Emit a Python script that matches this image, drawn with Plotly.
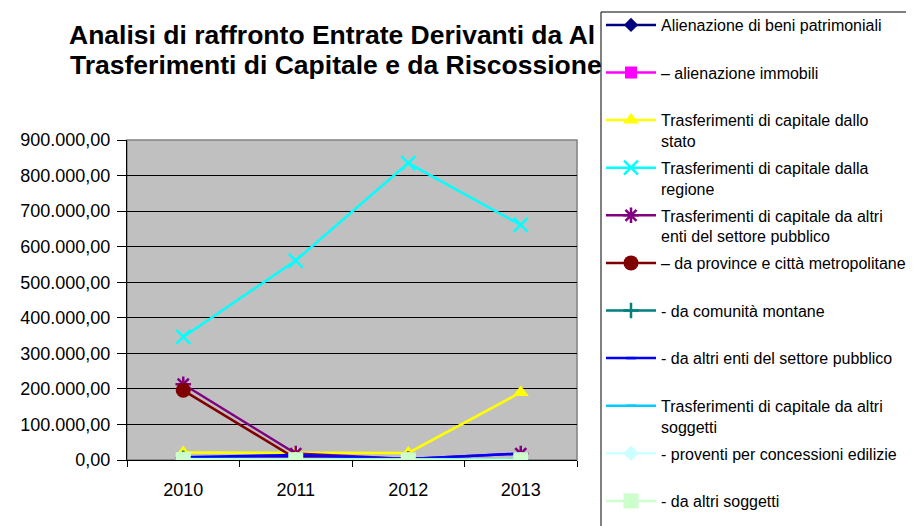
import plotly.graph_objects as go

years = ["2010", "2011", "2012", "2013"]

# visible part of the title (the rest is hidden behind the legend box)
title_lines = [
    "Analisi di raffronto Entrate Derivanti da Al",
    "Trasferimenti di Capitale e da Riscossione",
]

names = [
    "Alienazione di beni patrimoniali",
    "– alienazione immobili",
    "Trasferimenti di capitale dallo<br>stato",
    "Trasferimenti di capitale dalla<br>regione",
    "Trasferimenti di capitale da altri<br>enti del settore pubblico",
    "– da province e città metropolitane",
    "- da comunità montane",
    "- da altri enti del settore pubblico",
    "Trasferimenti di capitale da altri<br>soggetti",
    "- proventi per concessioni edilizie",
    "- da altri soggetti",
]

alienazione_beni = [6000, 10000, 3000, 2000]
alienazione_immobili = [3000, 3000, 5000, 0]
trasf_stato = [21000, 21000, 20000, 190000]
trasf_regione = [346000, 561000, 835000, 661000]
trasf_altri_enti = [213000, 18000, 3000, 18000]
da_province = [196000, 4000, 0, 0]
da_comunita = [5000, 0, 0, 0]
da_altri_enti = [8000, 14000, 3000, 18000]
trasf_altri_soggetti = [3000, 3000, 2000, 2000]
proventi = [2000, 2000, 1000, 0]
da_altri_soggetti = [1000, 1000, 500, 1000]

series = [alienazione_beni, alienazione_immobili, trasf_stato, trasf_regione,
          trasf_altri_enti, da_province, da_comunita, da_altri_enti,
          trasf_altri_soggetti, proventi, da_altri_soggetti]

colors = ["#000080", "#FF00FF", "#FFFF00", "#00FFFF", "#800080", "#800000",
          "#008080", "#0000FF", "#00CCFF", "#CCFFFF", "#CCFFCC"]
symbols = ["diamond", "square", "triangle-up", "x-thin-open", "asterisk-open",
           "circle", "cross-thin-open", "line-ew-open", "line-ew-open",
           "diamond", "square"]
sizes = [11, 12, 14, 14, 13, 15, 11, 7, 7, 12, 15]

W, H = 914, 526
OFF = 8  # page body margin
L, R, T, B = 127, 577, 140, 460
FONT = "Arial, Liberation Sans, sans-serif"


def X(p):
    return (p - OFF) / W


def Y(p):
    return 1 - (p - OFF) / H


fig = go.Figure()
for i, (nm, vals) in enumerate(zip(names, series)):
    lbl = nm if "<br>" in nm else nm + "<br> "
    open_sym = symbols[i].endswith("open")
    fig.add_trace(go.Scatter(
        x=years, y=vals, name=lbl, mode="lines+markers",
        legendgroup=f"g{i}", hoverinfo="x+y",
        line=dict(color=colors[i], width=2.5),
        marker=dict(symbol=symbols[i], size=sizes[i], color=colors[i],
                    line=dict(color=colors[i], width=2.5 if open_sym else 0)),
    ))

# chart title on a hidden pixel-mapped overlay
fig.add_trace(go.Scatter(
    x=[69, 70], y=[37, 67], mode="text",
    text=[f"<b>{t}</b>" for t in title_lines],
    textposition="middle right",
    textfont=dict(size=26.5, color="black", family=FONT),
    xaxis="x2", yaxis="y2", showlegend=False, hoverinfo="skip", cliponaxis=False,
))

fig.update_layout(
    width=W, height=H,
    margin=dict(l=0, r=0, t=0, b=0, autoexpand=False),
    paper_bgcolor="white", plot_bgcolor="rgba(0,0,0,0)",
    separators=",.",
    font=dict(family=FONT, color="black", size=18),
    showlegend=True,
    legend=dict(
        x=X(601), y=Y(8), xanchor="left", yanchor="top",
        bgcolor="rgba(0,0,0,0)", borderwidth=0,
        font=dict(size=16, color="black"), valign="top",
        tracegroupgap=3, itemwidth=50, traceorder="grouped",
        maxheight=3000,
    ),
    xaxis=dict(
        domain=[X(L), X(R)],
        type="category", range=[-0.5, 3.5], showgrid=False,
        showline=True, linecolor="black", linewidth=1,
        ticks="outside", tickson="boundaries", ticklen=6, tickcolor="black",
        tickfont=dict(size=18), ticklabelstandoff=13, fixedrange=True,
    ),
    yaxis=dict(
        domain=[Y(B), Y(T)],
        range=[0, 900000], dtick=100000, tickformat=",.2f",
        showgrid=True, gridcolor="black", gridwidth=1,
        showline=True, linecolor="black", linewidth=1,
        ticks="outside", ticklen=9, tickcolor="black",
        tickfont=dict(size=18), ticklabelstandoff=3,
        zeroline=False, fixedrange=True,
    ),
    xaxis2=dict(domain=[0, 1], range=[OFF, W + OFF], visible=False,
                anchor="y2", fixedrange=True),
    yaxis2=dict(domain=[0, 1], range=[H + OFF, OFF], visible=False,
                anchor="x2", fixedrange=True),
    shapes=[
        dict(type="rect", xref="paper", yref="paper",
             x0=X(L), x1=X(R), y0=Y(B), y1=Y(T),
             fillcolor="#C0C0C0", line=dict(width=0), layer="below"),
        dict(type="rect", xref="paper", yref="paper",
             x0=X(L), x1=X(R), y0=Y(B), y1=Y(T),
             line=dict(color="#808080", width=1.5), layer="between"),
        dict(type="rect", xref="paper", yref="paper",
             x0=X(7), x1=X(1000), y0=Y(700), y1=Y(5),
             line=dict(color="black", width=1), layer="below"),
        # legend box (white, covers the tail of the title)
        dict(type="rect", xref="paper", yref="paper",
             x0=X(601), x1=X(1000), y0=Y(700), y1=Y(12),
             fillcolor="white", line=dict(color="black", width=1),
             layer="above"),
    ],
)

fig.write_html("out.html")
